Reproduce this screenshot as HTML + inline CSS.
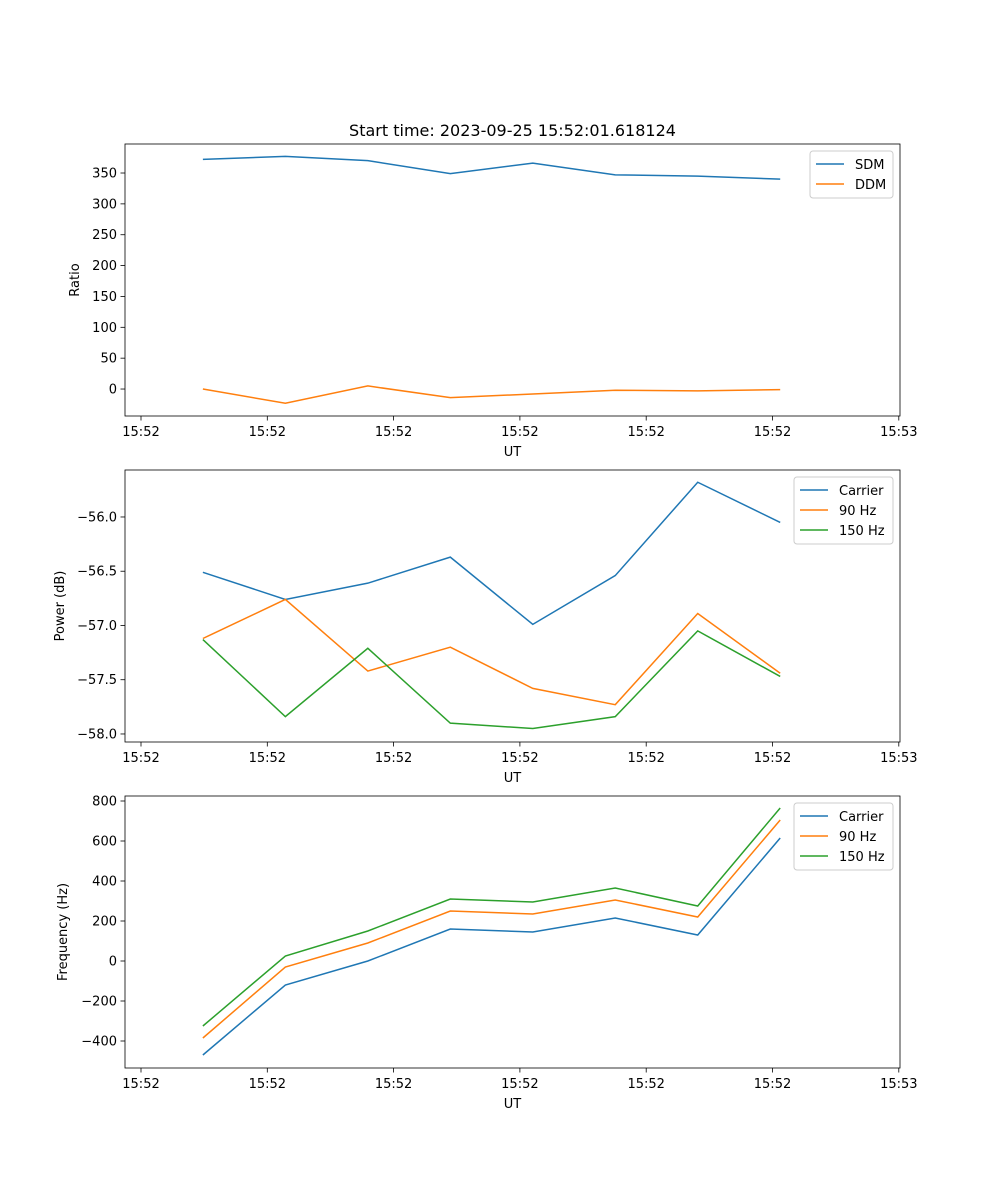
<!DOCTYPE html>
<html><head><meta charset="utf-8">
<style>
body{margin:0;background:#fff;}
svg{display:block;font-family:"DejaVu Sans","Liberation Sans",sans-serif;}
</style></head>
<body>
<svg id="chart" width="1000" height="1200" viewBox="0 0 1000 1200" xmlns="http://www.w3.org/2000/svg">
<text x="512.5" y="136" font-size="16" text-anchor="middle">Start time: 2023-09-25 15:52:01.618124</text>
</svg>
<script>
const xTickLabels = ["15:52","15:52","15:52","15:52","15:52","15:52","15:53"];
const xTickVals = [0,1,2,3,4,5,6];
const xVals = [0.49,1.143,1.796,2.449,3.102,3.755,4.408,5.061];

const ratioTicks = [0,50,100,150,200,250,300,350];
const sdm = [372,377,370,349,366,347,345,340];
const ddm = [0,-23,5,-14,-8,-2,-3,-1];

const powerTicks = [-58.0,-57.5,-57.0,-56.5,-56.0];
const powerCarrier = [-56.51,-56.76,-56.61,-56.37,-56.99,-56.54,-55.68,-56.05];
const power90 = [-57.12,-56.76,-57.42,-57.20,-57.58,-57.73,-56.89,-57.44];
const power150 = [-57.13,-57.84,-57.21,-57.90,-57.95,-57.84,-57.05,-57.47];

const freqTicks = [-400,-200,0,200,400,600,800];
const freqCarrier = [-470,-120,0,160,145,215,130,615];
const freq90 = [-385,-30,90,250,235,305,220,705];
const freq150 = [-325,25,150,310,295,365,275,765];

const NS="http://www.w3.org/2000/svg";
const svg=document.getElementById('chart');
function mk(tag,attrs,parent){const e=document.createElementNS(NS,tag);for(const k in attrs)e.setAttribute(k,attrs[k]);(parent||svg).appendChild(e);return e;}
const L=125,R=900;
function xs(v){return 141+v*126.3;}

function panel(name,top,ymin,ymax,ticks,fmt,ylabel,ylabelX,series,legendW){
  const bot=top+272;
  const g=mk('g',{});
  
  
  const ys=v=>bot-(v-ymin)/(ymax-ymin)*(bot-top);
  // x ticks
  xTickVals.forEach((t,i)=>{
    const x=xs(t);
    mk('line',{x1:x,x2:x,y1:bot,y2:bot+4.5,stroke:'#000','stroke-width':0.8},g);
    const tx=mk('text',{x:x,y:bot+20,'font-size':13,'text-anchor':'middle'},g);
    
    
    tx.textContent=xTickLabels[i];
  });
  ticks.forEach(t=>{
    const y=ys(t);
    mk('line',{x1:L-4.5,x2:L,y1:y,y2:y,stroke:'#000','stroke-width':0.8},g);
    const tx=mk('text',{x:L-8,y:y+4.5,'font-size':13,'text-anchor':'end'},g);
    
    
    tx.textContent=fmt(t);
  });
  const xl=mk('text',{x:512.5,y:bot+40,'font-size':13,'text-anchor':'middle'},g);
  
  
  xl.textContent='UT';
  const yl=mk('text',{x:0,y:0,'font-size':13,'text-anchor':'middle',transform:`translate(${ylabelX},${(top+bot)/2}) rotate(-90)`},g);
  
  
  yl.textContent=ylabel;
  series.forEach(s=>{
    const p=mk('polyline',{points:s.data.map((v,i)=>xs(xVals[i])+','+ys(v)).join(' '),fill:'none',stroke:s.color,'stroke-width':1.5},g);
    
    
  });
  mk('rect',{x:L,y:top,width:R-L,height:bot-top,fill:'none',stroke:'#000','stroke-width':0.8},g);
  // legend
  const lx=893-legendW, ly=top+7, lh=series.length*20+7;
  const lg=mk('g',{},g);
  
  
  mk('rect',{x:lx,y:ly,width:legendW,height:lh,rx:3,fill:'#fff','fill-opacity':0.8,stroke:'#ccc','stroke-width':1},lg);
  series.forEach((s,i)=>{
    const cy=ly+13+i*20;
    mk('line',{x1:lx+6,x2:lx+34,y1:cy,y2:cy,stroke:s.color,'stroke-width':1.5},lg);
    const t=mk('text',{x:lx+45,y:cy+5,'font-size':13},lg);
    
    
    t.textContent=s.label;
  });
}
const C1='#1f77b4',C2='#ff7f0e',C3='#2ca02c';
panel('ratio',144,-43.7,397,ratioTicks,t=>String(t),'Ratio',79,
  [{key:'sdm',label:'SDM',data:sdm,color:C1},{key:'ddm',label:'DDM',data:ddm,color:C2}],83);
panel('power',470,-58.074,-55.567,powerTicks,t=>(t<0?'\u2212':'')+Math.abs(t).toFixed(1),'Power (dB)',64,
  [{key:'carrier',label:'Carrier',data:powerCarrier,color:C1},{key:'90hz',label:'90 Hz',data:power90,color:C2},{key:'150hz',label:'150 Hz',data:power150,color:C3}],99);
panel('frequency',796,-535,825,freqTicks,t=>(t<0?'\u2212':'')+Math.abs(t),'Frequency (Hz)',67,
  [{key:'carrier',label:'Carrier',data:freqCarrier,color:C1},{key:'90hz',label:'90 Hz',data:freq90,color:C2},{key:'150hz',label:'150 Hz',data:freq150,color:C3}],99);
</script>
</body></html>
